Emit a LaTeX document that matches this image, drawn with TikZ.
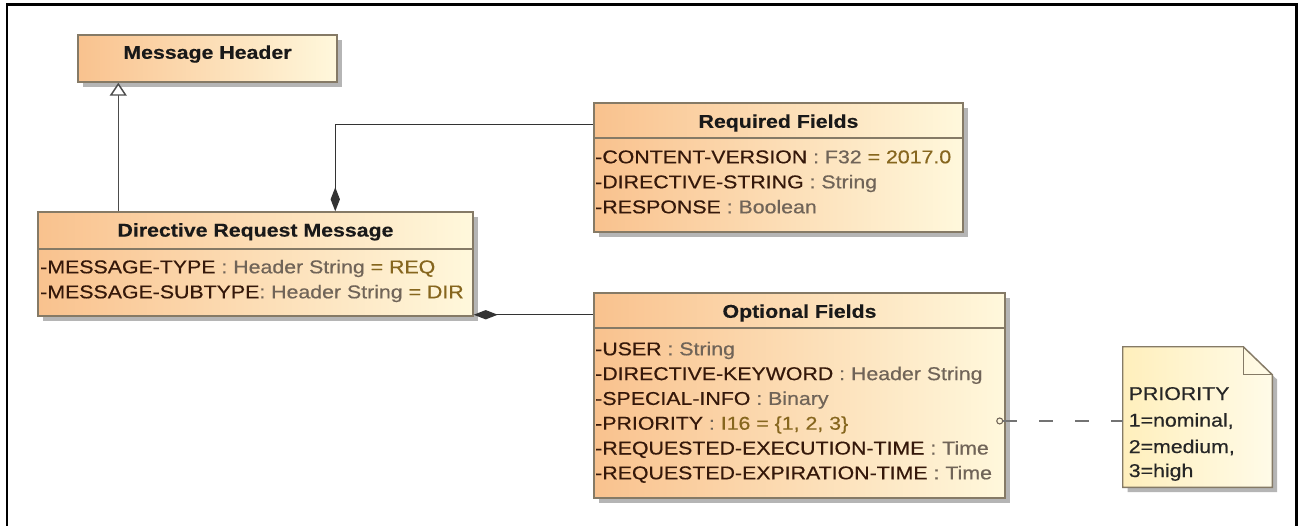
\documentclass[tikz,border=0pt]{standalone}
\usepackage{fontspec}
\setmainfont{Liberation Sans}
\newfontfamily\attrf{Liberation Sans}[FakeBold=0.45]
\newfontfamily\ttlf{Liberation Sans Bold}[FakeBold=0.3]
\usepackage{graphicx}
\usetikzlibrary{arrows.meta,fit,shadows}
\definecolor{boxL}{HTML}{F9C28E}
\definecolor{boxR}{HTML}{FFF8DC}
\definecolor{noteL}{HTML}{FFEFBC}
\definecolor{noteR}{HTML}{FFFBE8}
\definecolor{bord}{HTML}{857A66}
\definecolor{shad}{HTML}{B5B5B5}
\definecolor{nm}{HTML}{35180A}
\definecolor{ty}{HTML}{706458}
\definecolor{va}{HTML}{86661E}
\definecolor{conn}{HTML}{333333}
\newcommand\hx[1]{\scalebox{1.15}[1]{#1}}
\newcommand\an[1]{\textcolor{nm}{#1}}
\newcommand\at[1]{\textcolor{ty}{#1}}
\newcommand\av[1]{\textcolor{va}{#1}}
\tikzset{
  classbox/.style={draw=bord, line width=1.1pt, inner sep=0pt,
    left color=boxL, right color=boxR,
    drop shadow={shadow xshift=3.6pt, shadow yshift=-3.6pt, fill=shad, opacity=1}},
  sepline/.style={draw=bord, line width=1.1pt},
  ttl/.style={anchor=base, inner sep=0pt, font=\fontsize{13.9}{16}\selectfont\ttlf, text=black!90},
  attr/.style={anchor=base west, inner sep=0pt, font=\fontsize{13.9}{16}\selectfont\attrf},
  notetext/.style={anchor=base west, inner sep=0pt, font=\fontsize{13.9}{16}\selectfont\attrf, text=black!85},
  gen/.style={draw=black!70, line width=1.1pt, -{Triangle[length=9.75pt,width=12.75pt,fill=white]}},
  comp/.style={draw=conn, line width=1.1pt, {Diamond[length=18pt,width=7pt]}-},
  dline/.style={draw=black!55, line width=1.1pt, dash pattern=on 10.5pt off 16.5pt},
}
\begin{document}
\begin{tikzpicture}[x=0.75pt, y=-0.75pt]
\useasboundingbox (0,0) rectangle (1302,525);
\clip (0,0) rectangle (1302,525);
\fill[white] (0,0) rectangle (1302,525);
\draw[line width=1.6pt] (7,4.5) rectangle (1296.5,560);

% Message Header
\node[classbox, fit={(78,35)(337,82)}] (mh) {};
\node[ttl] (mht) at (207.5,58.8) {\hx{Message Header}};

% Directive Request Message
\node[classbox, fit={(38,212)(473,316)}] (drm) {};
\draw[sepline] (drm.west |- 0,249) -- (drm.east |- 0,249);
\node[ttl] (drmt) at (255.5,236.6) {\hx{Directive Request Message}};
\node[attr] (drm1) at (40,273.3) {\hx{\an{-MESSAGE-TYPE} \at{: Header String} \av{= REQ}}};
\node[attr] (drm2) at (40,298.3) {\hx{\an{-MESSAGE-SUBTYPE}\at{: Header String} \av{= DIR}}};

% Required Fields
\node[classbox, fit={(594,103)(963,232)}] (req) {};
\draw[sepline] (req.west |- 0,138) -- (req.east |- 0,138);
\node[ttl] (reqt) at (778.5,127.8) {\hx{Required Fields}};
\node[attr] (req1) at (595,163.3) {\hx{\an{-CONTENT-VERSION} \at{: F32} \av{= 2017.0}}};
\node[attr] (req2) at (595,188.3) {\hx{\an{-DIRECTIVE-STRING} \at{: String}}};
\node[attr] (req3) at (595,213.3) {\hx{\an{-RESPONSE} \at{: Boolean}}};

% Optional Fields
\node[classbox, fit={(594,293)(1005,498)}] (opt) {};
\draw[sepline] (opt.west |- 0,328) -- (opt.east |- 0,328);
\node[ttl] (optt) at (799.5,317.8) {\hx{Optional Fields}};
\node[attr] (opt1) at (595,355.3) {\hx{\an{-USER} \at{: String}}};
\node[attr] (opt2) at (595,380.1) {\hx{\an{-DIRECTIVE-KEYWORD} \at{: Header String}}};
\node[attr] (opt3) at (595,404.9) {\hx{\an{-SPECIAL-INFO} \at{: Binary}}};
\node[attr] (opt4) at (595,429.7) {\hx{\an{-PRIORITY} \at{:} \av{I16 = \{1, 2, 3\}}}};
\node[attr] (opt5) at (595,454.5) {\hx{\an{-REQUESTED-EXECUTION-TIME} \at{: Time}}};
\node[attr] (opt6) at (595,479.3) {\hx{\an{-REQUESTED-EXPIRATION-TIME} \at{: Time}}};

% Note
\node[fit={(1123,347)(1272,487)}, inner sep=0pt] (note) {};
\path[draw=bord, line width=1.1pt, left color=noteL, right color=noteR,
  drop shadow={shadow xshift=3.6pt, shadow yshift=-3.6pt, fill=shad, opacity=1}]
  (note.north west) -- ([xshift=-21.75pt]note.north east) -- ([yshift=-21pt]note.north east)
  -- (note.south east) -- (note.south west) -- cycle;
\draw[draw=bord, line width=1.1pt] ([xshift=-21.75pt]note.north east) -- ++(0,-21pt) -- ([yshift=-21pt]note.north east);
\node[notetext] (n1) at (1128.5,400) {\hx{PRIORITY}};
\node[notetext] (n2) at (1128.5,426.6) {\hx{1=nominal,}};
\node[notetext] (n3) at (1128.5,453) {\hx{2=medium,}};
\node[notetext] (n4) at (1128.5,477) {\hx{3=high}};

% Connectors
\draw[gen] ([xshift=60.75pt]drm.north west) -- ([xshift=30.75pt]mh.south west);
\draw[comp] ([xshift=223.5pt]drm.north west) |- ([yshift=-16.5pt]req.north west);
\coordinate (c2) at ([yshift=1.5pt]drm.south east);
\draw[comp] (c2) -- (c2 -| opt.west);
\node[circle, draw=ty, line width=0.8pt, inner sep=0pt, minimum size=4.5pt, fill=boxR] (pc) at ([xshift=-4.5pt, yshift=-19.1pt]opt.east) {};
\draw[dline] (pc.east) -- (pc.east -| note.west);
\end{tikzpicture}
\end{document}
